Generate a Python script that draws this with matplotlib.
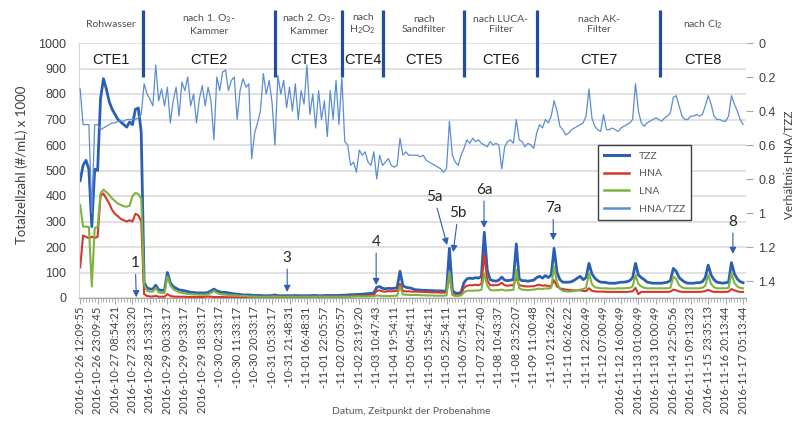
import numpy as np
import matplotlib
matplotlib.use('Agg')
import matplotlib.pyplot as plt
from matplotlib.lines import Line2D
from matplotlib.ticker import MultipleLocator

plt.rcParams['font.family'] = ['Lato', 'DejaVu Sans']
plt.rcParams['mathtext.fontset'] = 'custom'
plt.rcParams['mathtext.rm'] = 'Lato'
plt.rcParams['mathtext.default'] = 'regular'

# ---- sampling times (every 6th sample is labelled) ---------------------------
xlabels = [
    '2016-10-26 12:09:55', '2016-10-26 23:09:45', '2016-10-27 08:54:21', '2016-10-27 23:33:20',
    '2016-10-28 15:33:17', '2016-10-29 00:33:17', '2016-10-29 09:33:17', '2016-10-29 18:33:17',
    '-10-30 02:33:17', '-10-30 11:33:17', '-10-30 20:33:17', '-10-31 05:33:17', '-10-31 21:48:31',
    '-11-01 06:48:31', '-11-01 22:05:57', '-11-02 07:05:57', '-11-02 23:19:20', '-11-03 10:47:43',
    '-11-04 19:54:11', '-11-05 04:54:11', '-11-05 13:54:11', '-11-05 22:54:11', '-11-06 07:54:11',
    '-11-07 23:27:40', '-11-08 10:43:37', '-11-08 23:52:07', '-11-09 11:00:48', '-11-10 21:26:22',
    '-11-11 06:26:22', '-11-11 22:00:49', '-11-12 07:00:49', '2016-11-12 16:00:49',
    '2016-11-13 01:00:49', '2016-11-13 10:00:49', '2016-11-14 22:50:56', '2016-11-15 09:13:23',
    '2016-11-15 23:35:13', '2016-11-16 20:13:44', '2016-11-17 05:13:44']

# ---- cell counts (x 1000 per mL) ---------------------------------------------
tzz = [
    460, 520, 540, 505, 280, 505, 500, 780, 860, 820, 770, 740, 720, 700, 690, 680, 670, 690, 680, 740, 745, 650,
    60, 40, 35, 35, 50, 32, 30, 30, 100, 60, 45, 38, 32, 30, 28, 25, 22, 22, 20, 20, 20, 20, 22, 28, 35, 28,
    24, 22, 22, 20, 18, 16, 15, 14, 12, 12,
    12, 11, 10, 10, 10, 9, 9, 9, 10, 12, 9, 9, 9, 9, 9, 9, 10, 9, 9, 9, 9, 9, 10, 10, 9, 9, 10, 10, 10, 10,
    10, 10, 11,
    11, 12, 13, 13, 14, 14, 15, 16, 17, 18, 20,
    42, 45, 38, 36, 38, 37, 38, 40, 105, 48, 42, 40, 38,
    33, 32, 31, 30, 30, 29, 29, 28, 28, 28, 27, 28, 195, 30, 20, 18, 22,
    60, 75, 78, 76, 80, 78, 85, 258, 110, 72, 68, 66, 70, 82, 70, 68, 70, 72, 212,
    75, 68, 68, 66, 68, 70, 80, 85, 78, 88, 80, 90, 195, 100, 72, 62, 62, 62, 64, 70, 78, 85,
    72, 80, 136, 95, 78, 68, 62, 62, 60, 58, 58, 58, 60, 62, 62, 64, 68, 80, 136, 90,
    80, 72, 62, 60, 58, 58, 58, 58, 60, 62, 68, 116, 105, 80, 70, 62, 58, 58, 58, 60,
    60, 64, 80, 129, 90, 72, 62, 60, 58, 60, 62, 139, 95, 75, 64, 60]

hna = [
    120, 245, 240, 235, 240, 235, 240, 400, 410, 390, 370, 345, 330, 320, 310, 305, 300, 305, 300, 330, 325, 300,
    15, 8, 6, 6, 8, 5, 5, 5, 15, 8, 6, 5, 5, 5, 5, 4, 4, 4, 4, 4, 4, 5, 6, 5, 4, 4, 4, 4, 3, 3, 3, 3, 3, 3, 3, 3,
    4, 4, 4, 4, 4, 4, 4, 4, 4, 5, 4, 4, 4, 4, 4, 4, 5, 4, 4, 4, 4, 4, 5, 5, 4, 4, 5, 5, 5, 5, 5, 5, 5,
    6, 6, 7, 7, 8, 8, 9, 9, 10, 11, 12,
    28, 30, 26, 25, 27, 26, 27, 28, 55, 28, 26, 26, 25,
    25, 25, 24, 24, 23, 23, 22, 22, 22, 21, 21, 22, 90, 15, 12, 10, 14,
    40, 48, 50, 50, 52, 50, 55, 172, 70, 50, 50, 50, 52, 60, 50, 48, 50, 50, 80,
    50, 48, 46, 45, 46, 46, 50, 52, 48, 50, 46, 48, 70, 45, 38, 35, 33, 32, 30, 30, 30, 30,
    28, 27, 38, 28, 26, 25, 25, 25, 24, 24, 24, 24, 24, 24, 24, 24, 25, 26, 40, 15,
    24, 24, 24, 24, 24, 24, 24, 24, 24, 24, 25, 33, 30, 26, 24, 24, 24, 24, 24, 24,
    24, 25, 27, 32, 27, 24, 24, 24, 24, 24, 25, 35, 30, 26, 24, 24]

lna = [
    365, 280, 280, 278, 45, 275, 278, 410, 425, 415, 405, 390, 380, 370, 365, 360, 358, 362, 400, 412, 408, 390,
    50, 28, 25, 25, 40, 22, 20, 20, 85, 50, 35, 28, 22, 20, 18, 16, 15, 14, 14, 13, 13, 13, 15, 20, 28, 20,
    16, 14, 13, 12, 11, 10, 10, 9, 8, 8,
    6, 6, 6, 5, 5, 5, 5, 5, 6, 6, 5, 5, 5, 5, 5, 5, 5, 5, 5, 5, 5, 5, 5, 5, 5, 5, 5, 5, 5, 5, 5, 5, 5,
    5, 5, 5, 6, 6, 6, 6, 6, 6, 7, 7,
    10, 9, 8, 8, 8, 8, 9, 9, 45, 14, 13, 12, 12,
    12, 12, 11, 11, 10, 10, 10, 9, 9, 9, 9, 10, 103, 12, 8, 8, 10,
    22, 28, 29, 28, 30, 29, 32, 97, 50, 32, 30, 30, 31, 33, 30, 30, 31, 32, 110,
    38, 33, 32, 31, 32, 33, 35, 37, 35, 38, 36, 40, 123, 60, 35, 28, 26, 25, 26, 28, 30, 33,
    35, 40, 97, 55, 42, 40, 38, 38, 38, 37, 37, 37, 38, 38, 38, 39, 40, 45, 90, 55,
    45, 40, 38, 38, 38, 38, 38, 38, 38, 38, 40, 84, 75, 50, 42, 38, 38, 38, 38, 38,
    38, 40, 48, 90, 55, 42, 38, 38, 38, 38, 40, 97, 60, 45, 40, 38]

# ---- HNA/TZZ ratio (secondary axis) ------------------------------------------
ratio = [
    0.27, 0.48, 0.48, 0.48, 1.00, 0.48, 0.48, 0.51, 0.50, 0.49, 0.48, 0.47, 0.47, 0.46, 0.46, 0.46,
    0.45, 0.45, 0.45, 0.45, 0.44, 0.42,
    0.24, 0.30, 0.33, 0.37, 0.13, 0.34, 0.27, 0.37, 0.26, 0.47, 0.34, 0.26, 0.43, 0.23, 0.28, 0.20,
    0.37, 0.30, 0.47, 0.33, 0.25, 0.37, 0.26, 0.34, 0.57, 0.20, 0.28, 0.17, 0.16, 0.28, 0.22, 0.20,
    0.45, 0.28, 0.21, 0.26,
    0.24, 0.68, 0.53, 0.47, 0.40, 0.18, 0.30, 0.22, 0.35, 0.60, 0.19, 0.30, 0.22, 0.38, 0.26, 0.40,
    0.24, 0.45, 0.28, 0.36, 0.13, 0.42, 0.30, 0.50, 0.28, 0.45, 0.34, 0.55, 0.28, 0.45, 0.22, 0.48,
    0.20, 0.58, 0.60, 0.72, 0.70, 0.76, 0.63, 0.66, 0.64, 0.70, 0.72, 0.64, 0.80, 0.66, 0.72, 0.70,
    0.68, 0.72, 0.73, 0.72, 0.56, 0.66, 0.64, 0.66, 0.66,
    0.66, 0.66, 0.67, 0.66, 0.69, 0.70, 0.71, 0.72, 0.73, 0.74, 0.76, 0.74, 0.46, 0.66, 0.70, 0.72,
    0.66, 0.62, 0.57, 0.59, 0.56, 0.58, 0.57, 0.59, 0.60, 0.61, 0.58, 0.60, 0.59, 0.60, 0.74, 0.61,
    0.58, 0.57, 0.59, 0.45, 0.57, 0.58, 0.61, 0.59, 0.60, 0.62, 0.53, 0.48, 0.50, 0.45, 0.47, 0.43,
    0.34, 0.40, 0.49, 0.51, 0.54, 0.53, 0.51, 0.50, 0.49, 0.48,
    0.47, 0.43, 0.27, 0.44, 0.49, 0.51, 0.52, 0.42, 0.51, 0.51, 0.50, 0.51, 0.52, 0.50, 0.49, 0.48,
    0.47, 0.45, 0.24, 0.40, 0.47, 0.49, 0.47, 0.46, 0.45, 0.44, 0.45, 0.46, 0.44, 0.43, 0.41, 0.32,
    0.31, 0.37, 0.43, 0.45, 0.45, 0.43, 0.43, 0.42, 0.43, 0.42, 0.37, 0.31, 0.36, 0.43, 0.45, 0.45,
    0.46, 0.46, 0.43, 0.31, 0.36, 0.40, 0.45, 0.48]

# ---- treatment stages --------------------------------------------------------
stage_edges = [21.7, 67.1, 90.1, 104.2, 132.1, 157.2, 199.5]
stage_codes = ['CTE1', 'CTE2', 'CTE3', 'CTE4', 'CTE5', 'CTE6', 'CTE7', 'CTE8']
stage_names = ['Rohwasser', 'nach 1. O$_3$-\nKammer', 'nach 2. O$_3$-\nKammer', 'nach\nH$_2$O$_2$',
               'nach\nSandfilter', 'nach LUCA-\nFilter', 'nach AK-\nFilter', 'nach Cl$_2$']

# ---- marked events -----------------------------------------------------------
ann_text = ['1', '3', '4', '5a', '5b', '6a', '7a', '8']
ann_at = [19.3, 71.2, 101.8, 126.2, 128.3, 138.9, 162.7, 224.5]
ann_lvl = [3, 24, 51, 208, 180, 275, 227, 173]
ann_off = [(-0.7, 24.5), (0, 24.5), (0, 31), (-9.4, 34.6), (3.6, 28), (0, 27.4), (0, 23), (0, 23)]

C_TZZ = '#2c5fb3'
C_HNA = '#d6372d'
C_LNA = '#7db441'
C_RAT = '#5b8ed0'
C_BAR = '#1f4e9e'
C_TXT = '#404040'

fig = plt.figure(figsize=(8.12, 4.21), dpi=100)
ax = fig.add_axes([79 / 812, 123 / 421, 667 / 812, 255 / 421])
ax2 = ax.twinx()
x = np.arange(len(tzz))

ax.plot(x, tzz, color=C_TZZ, lw=2.0)
ax.plot(x, hna, color=C_HNA, lw=1.5)
ax.plot(x, lna, color=C_LNA, lw=1.5)
ax2.plot(x, ratio, color=C_RAT, lw=0.9)

ax.set_xlim(-0.4, 229.0)
ax.set_ylim(0, 1000)
ax.set_yticks(np.arange(0, 1001, 100))
ax.grid(axis='y', color='#d9d9d9', lw=1.1)
ax.set_axisbelow(True)
ax.set_xticks(np.arange(0, len(tzz), 6))
ax.set_xticklabels(xlabels, rotation=90, fontsize=8, color=C_TXT)
ax.xaxis.set_minor_locator(MultipleLocator(1))
ax.tick_params(axis='x', which='major', length=4, color='#a6a6a6', pad=2)
ax.tick_params(axis='x', which='minor', length=3, color='#a6a6a6', width=0.6)
ax.tick_params(axis='y', length=0, pad=9, labelsize=9, labelcolor=C_TXT)
for s in ['top', 'right']:
    ax.spines[s].set_visible(False)
ax.spines['left'].set_color('#d9d9d9')
ax.spines['bottom'].set_color('#a6a6a6')

ax2.set_ylim(1.5, 0)
ax2.set_yticks([0, 0.2, 0.4, 0.6, 0.8, 1.0, 1.2, 1.4])
ax2.set_yticklabels(['0', '0.2', '0.4', '0.6', '0.8', '1', '1.2', '1.4'])
ax2.tick_params(axis='y', length=5, color='#a6a6a6', pad=4, labelsize=9, labelcolor=C_TXT)
for s in ax2.spines.values():
    s.set_visible(False)
for lbl in ax.get_yticklabels() + ax2.get_yticklabels():
    lbl.set_fontfamily('Liberation Sans')

# stage separators, stage names above the plot and CTE codes inside it
trans = ax.get_xaxis_transform()
x0, x1 = ax.get_xlim()
edges = [x0] + stage_edges + [x1]
for e in stage_edges:
    ax.plot([e, e], [0.867, 1.129], transform=trans, clip_on=False, color=C_BAR,
            lw=2.3, solid_capstyle='butt', zorder=5)
for i, (name, code) in enumerate(zip(stage_names, stage_codes)):
    xc = (edges[i] + edges[i + 1]) / 2
    ax.text(xc, 1.073, name, transform=trans, ha='center', va='center', fontsize=7.5,
            color='#505050', linespacing=1.25, clip_on=False)
    ax.text(xc, 0.933, code, transform=trans, ha='center', va='center', fontsize=10.5,
            color='#1a1a1a', family='Liberation Sans')

for t, xi, yv, off in zip(ann_text, ann_at, ann_lvl, ann_off):
    ax.annotate(t, xy=(xi, yv), xytext=off, textcoords='offset points', ha='center',
                va='center', fontsize=11, color='#262626',
                arrowprops=dict(arrowstyle='-|>,head_length=0.35,head_width=0.18',
                                color=C_TZZ, lw=0.8, shrinkA=1, shrinkB=0))

fig.text(22 / 812, 1 - 165 / 421, 'Totalzellzahl (#/mL) x 1000', rotation=90,
         ha='center', va='center', fontsize=9.5, color=C_TXT)
fig.text(790 / 812, 1 - 165 / 421, 'Verhältnis HNA/TZZ', rotation=90,
         ha='center', va='center', fontsize=8.5, color=C_TXT)
fig.text(411 / 812, 1 - 412 / 421, 'Datum, Zeitpunkt der Probenahme',
         ha='center', va='center', fontsize=7.5, color='#595959')

handles = [Line2D([], [], color=C_TZZ, lw=2.2), Line2D([], [], color=C_HNA, lw=1.8),
           Line2D([], [], color=C_LNA, lw=1.8), Line2D([], [], color=C_RAT, lw=1.8)]
leg = ax2.legend(handles, ['TZZ', 'HNA', 'LNA', 'HNA/TZZ'], loc='upper left',
                 bbox_to_anchor=(593 / 812, 1 - 140 / 421), bbox_transform=fig.transFigure,
                 fancybox=False, edgecolor='#404040', framealpha=1, fontsize=7.5,
                 handlelength=2.4, handletextpad=0.9, labelspacing=0.8, borderpad=0.6)
leg.get_frame().set_linewidth(1.0)
for t in leg.get_texts():
    t.set_color('#595959')

fig.savefig('out.png', dpi=100)
